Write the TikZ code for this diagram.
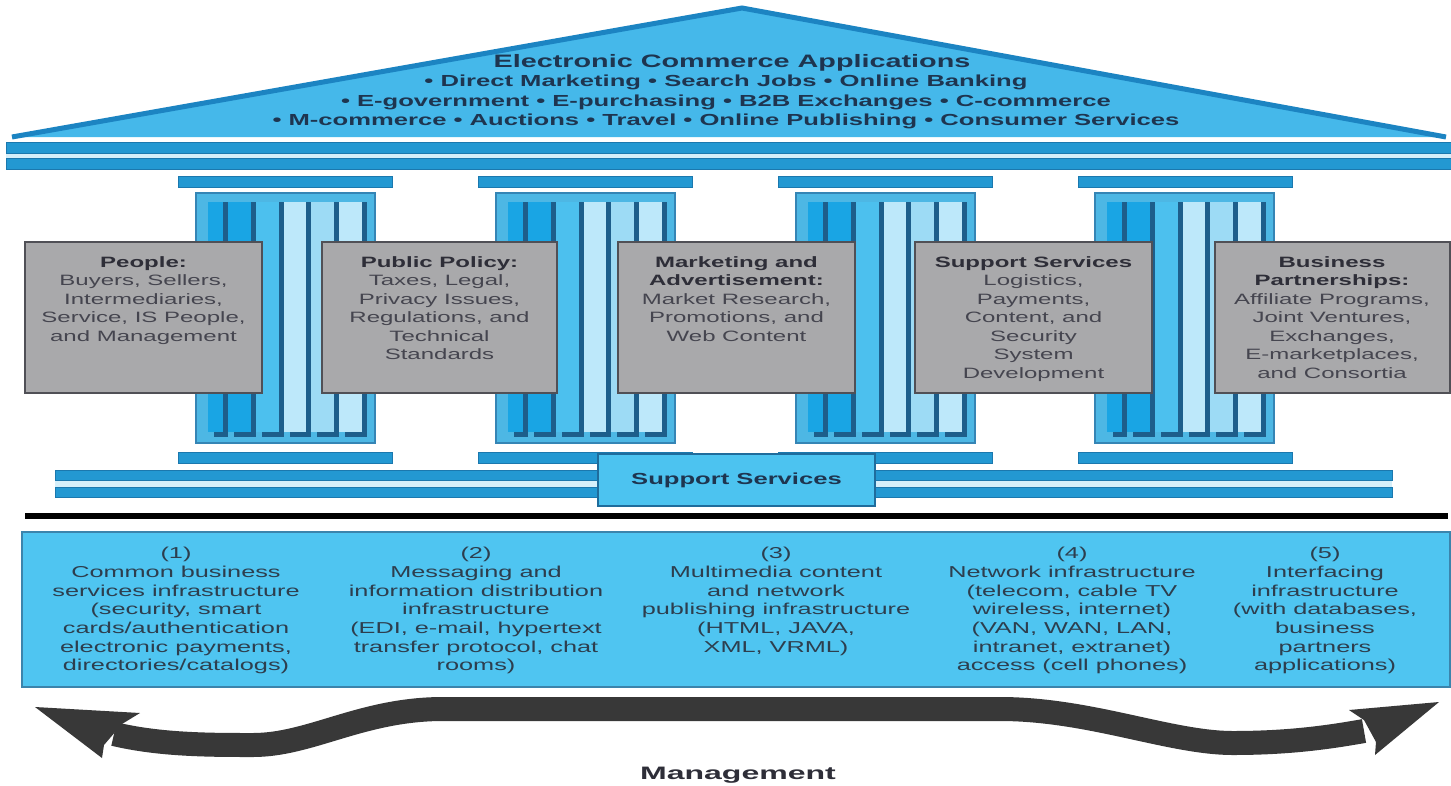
\documentclass[tikz,border=0pt]{standalone}
\usepackage{fontspec}
\setmainfont{Liberation Sans}
\newfontfamily\wfont[FakeStretch=1.6]{Liberation Sans}
\newfontfamily\mfont[FakeStretch=1.78]{Liberation Sans}
\definecolor{roofblue}{HTML}{45B8EA}
\definecolor{roofedge}{HTML}{1C84C2}
\definecolor{barblue}{HTML}{2398D2}
\definecolor{bardark}{HTML}{1B78AE}
\definecolor{barpale}{HTML}{D5EFFA}
\definecolor{framefill}{HTML}{4DB7E4}
\definecolor{frameedge}{HTML}{3585B5}
\definecolor{stripedark}{HTML}{1D5E8B}
\definecolor{sA}{HTML}{19A5E4}
\definecolor{sB}{HTML}{4CC0EE}
\definecolor{sC}{HTML}{BDE8FA}
\definecolor{sD}{HTML}{9DDBF5}
\definecolor{boxgrey}{HTML}{A9A9AB}
\definecolor{boxedge}{HTML}{505056}
\definecolor{ssfill}{HTML}{4CC3F0}
\definecolor{ssedge}{HTML}{1F6C9C}
\definecolor{basefill}{HTML}{4FC5F1}
\definecolor{baseedge}{HTML}{3B84AC}
\definecolor{rooftext}{HTML}{1E3550}
\definecolor{greytext}{HTML}{45454F}
\definecolor{greyhead}{HTML}{2E2E38}
\definecolor{basetext}{HTML}{2D3E4E}
\definecolor{arrowgrey}{HTML}{383838}
\tikzset{
  bar/.style={fill=barblue, draw=bardark, line width=0.8pt},
  greybox/.style={fill=boxgrey, draw=boxedge, line width=2pt, inner sep=0pt},
  gtext/.style={font=\wfont\fontsize{15}{18.5}\selectfont, text=greytext, align=center, inner sep=0pt, anchor=north},
  btext/.style={font=\wfont\fontsize{15.8}{18.7}\selectfont, text=basetext, align=center, inner sep=0pt, anchor=north},
  rtext/.style={font=\wfont\bfseries\fontsize{16}{19.3}\selectfont, text=rooftext, align=center, inner sep=0pt},
}
\newcommand{\hd}[1]{{\bfseries\color{greyhead}#1}}
\begin{document}
\begin{tikzpicture}[x=1pt,y=-1pt]
\useasboundingbox (0,0) rectangle (1451,785);
\fill[white] (0,0) rectangle (1451,785);
% roof
\coordinate (roofL) at (12,137);
\coordinate (apex) at (742,8);
\coordinate (roofR) at (1446,137);
\fill[roofblue] (roofL) -- (apex) -- (roofR) -- cycle;
\draw[roofedge, line width=5pt] (roofL) -- (apex) -- (roofR);
\node[rtext, font=\wfont\bfseries\fontsize{18}{20}\selectfont] (title) at (732,63) {Electronic Commerce Applications};
\node[rtext, anchor=north] (apps) at (726,75) {\textbullet\ Direct Marketing \textbullet\ Search Jobs \textbullet\ Online Banking\\
\textbullet\ E-government \textbullet\ E-purchasing \textbullet\ B2B Exchanges \textbullet\ C-commerce\\
\textbullet\ M-commerce \textbullet\ Auctions \textbullet\ Travel \textbullet\ Online Publishing \textbullet\ Consumer Services};
% top bars
\fill[barpale] (6,153) rectangle (1451,158);
\draw[bar] (6,142) rectangle (1451,153);
\draw[bar] (6,158) rectangle (1451,169);
% columns
\foreach \L in {196,496,796,1095}{
  \fill[framefill] (\L,193) rectangle ++(179,250);
  \draw[frameedge, line width=1.2pt] (\L,193) rectangle ++(179,250);
  \foreach \a/\b/\c in {12/27/sA, 32/55/sA, 60/83/sB, 88/110/sC, 115/138/sD, 143/166/sC}{
    \fill[\c] (\L+\a,202) rectangle (\L+\b,432);
    \fill[stripedark] (\L+\b,202) rectangle (\L+\b+5,437);
    \fill[stripedark] (\L+\a+6,432) rectangle (\L+\b+5,437);
  }
}
\foreach \L in {178,478,778,1078}{
  \draw[bar] (\L,176) rectangle ++(214,11);
  \draw[bar] (\L,452) rectangle ++(214,11);
}
% grey boxes
\node[greybox, minimum width=237pt, minimum height=151pt] (p1) at (143.5,317.5) {};
\node[greybox, minimum width=235pt, minimum height=151pt] (p2) at (439.5,317.5) {};
\node[greybox, minimum width=237pt, minimum height=151pt] (p3) at (736.5,317.5) {};
\node[greybox, minimum width=237pt, minimum height=151pt] (p4) at (1033.5,317.5) {};
\node[greybox, minimum width=235pt, minimum height=151pt] (p5) at (1332,317.5) {};
\node[gtext] (t1) at (143.5,256) {\hd{People:}\\Buyers, Sellers,\\Intermediaries,\\Service, IS People,\\and Management};
\node[gtext] (t2) at (439.5,256) {\hd{Public Policy:}\\Taxes, Legal,\\Privacy Issues,\\Regulations, and\\Technical\\Standards};
\node[gtext] (t3) at (736.5,256) {\hd{Marketing and}\\\hd{Advertisement:}\\Market Research,\\Promotions, and\\Web Content};
\node[gtext] (t4) at (1033.5,256) {\hd{Support Services}\\Logistics,\\Payments,\\Content, and\\Security\\System\\Development};
\node[gtext] (t5) at (1332,256) {\hd{Business}\\\hd{Partnerships:}\\Affiliate Programs,\\Joint Ventures,\\Exchanges,\\E-marketplaces,\\and Consortia};
% base bars
\fill[barpale] (55,480) rectangle (1392,487);
\draw[bar] (55,470) rectangle (1392,480);
\draw[bar] (55,487) rectangle (1392,497);
\node[fill=ssfill, draw=ssedge, line width=2.5pt, minimum width=277pt, minimum height=52pt, inner sep=0pt,
  font=\wfont\bfseries\fontsize{16}{18}\selectfont, text=rooftext] (ss) at (736.5,480) {Support Services};
% black line
\coordinate (blL) at (25,516);
\coordinate (blR) at (1448,516);
\draw[black, line width=6pt] (blL) -- (blR);
% base box
\node[fill=basefill, draw=baseedge, line width=2pt, minimum width=1428pt, minimum height=155pt, inner sep=0pt] (base) at (736,609.5) {};
\node[btext] (b1) at (176,547) {(1)\\Common business\\services infrastructure\\(security, smart\\cards/authentication\\electronic payments,\\directories/catalogs)};
\node[btext] (b2) at (476,547) {(2)\\Messaging and\\information distribution\\infrastructure\\(EDI, e-mail, hypertext\\transfer protocol, chat\\rooms)};
\node[btext] (b3) at (776,547) {(3)\\Multimedia content\\and network\\publishing infrastructure\\(HTML, JAVA,\\XML, VRML)};
\node[btext] (b4) at (1072,547) {(4)\\Network infrastructure\\(telecom, cable TV\\wireless, internet)\\(VAN, WAN, LAN,\\intranet, extranet)\\access (cell phones)};
\node[btext] (b5) at (1325,547) {(5)\\Interfacing\\infrastructure\\(with databases,\\business\\partners\\applications)};
% management arrow
\coordinate (mL) at (114,734);
\coordinate (mR) at (1364,731);
\draw[arrowgrey, line width=24pt] (mL) .. controls (160,745) and (210,745) .. (253,745)
  .. controls (310,745) and (360,710) .. (440,709) -- (1000,709)
  .. controls (1090,709) and (1170,743) .. (1233,743)
  .. controls (1290,743) and (1330,737) .. (mR);
\fill[arrowgrey] (35,707) -- (140,713) -- (122,724) -- (104,745) -- (102,758) -- cycle;
\fill[arrowgrey] (1439,702) -- (1349,710) -- (1364,720) -- (1376,742) -- (1375,755) -- cycle;
\node[font=\mfont\bfseries\fontsize{18}{20}\selectfont, text=greyhead, inner sep=0pt] (mg) at (738,775) {Management};
\end{tikzpicture}
\end{document}
